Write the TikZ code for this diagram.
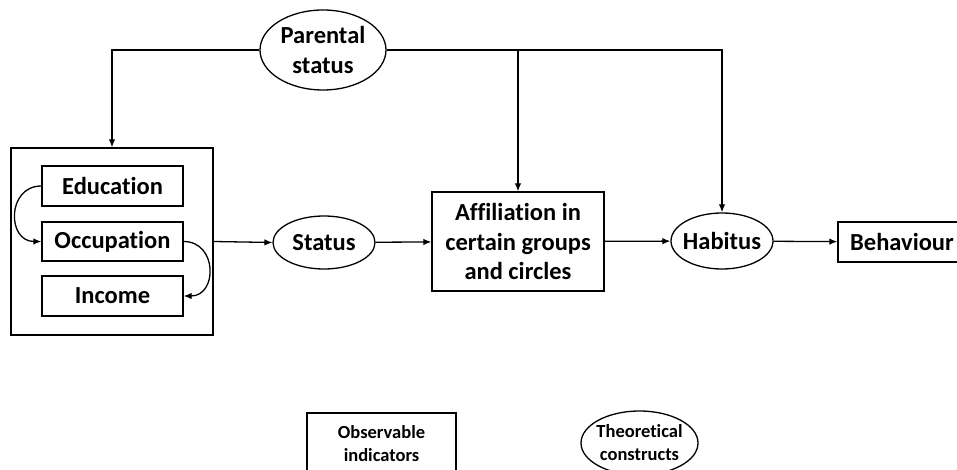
\documentclass[tikz,border=0pt]{standalone}
\usepackage{fontspec}
\setmainfont{Carlito}[Ligatures=NoCommon]
\usetikzlibrary{shapes.geometric,arrows.meta}
\tikzset{
  box/.style={draw,line width=1.3pt,rectangle,inner sep=0pt,align=center},
  construct/.style={draw,line width=1.3pt,ellipse,inner sep=-5pt,align=center},
  link/.style={line width=1.3pt,-{Latex[length=8pt,width=6.5pt]}},
  bigtext/.style={font=\bfseries\fontsize{24.5}{29.5}\selectfont},
  smalltext/.style={font=\bfseries\fontsize{18.5}{23}\selectfont}
}
\begin{document}
\begin{tikzpicture}[x=1pt,y=-1pt,bigtext]
\useasboundingbox (0,0) rectangle (957,470);
% Parental status on top
\node[construct,minimum width=126,minimum height=80] (par) at (323,50) {Parental\\status};
% Indicator block
\node[box,minimum width=202,minimum height=187] (indic) at (112,241.5) {};
\node[box,minimum width=141,minimum height=40] (edu) at (112.5,186) {Education};
\node[box,minimum width=141,minimum height=39] (occ) at (112.5,241.5) {Occupation};
\node[box,minimum width=141,minimum height=40] (inc) at (112.5,296) {Income};
\draw[link] (edu.west) to[out=180,in=180,looseness=1.6] (occ.west);
\draw[link] (occ.east) to[out=0,in=0,looseness=1.6] (inc.east);
% Main chain
\node[construct,minimum width=102,minimum height=53] (status) at (324,242.5) {Status};
\node[box,minimum width=172,minimum height=99] (aff) at (518,241.5) {Affiliation in\\certain groups\\and circles};
\node[construct,minimum width=102,minimum height=56] (hab) at (722,241) {Habitus};
\node[box,minimum width=128,minimum height=40] (beh) at (902,242) {Behaviour};
\draw[link] (indic.east) -- (status.west);
\draw[link] (status) -- (aff);
\draw[link] (aff) -- (hab);
\draw[link] (hab) -- (beh);
% Influence of parental status
\draw[link] (par.west) -| (indic.north);
\draw[link] (par.east) -| (hab.north);
\coordinate (split) at (aff.north |- par.east);
\draw[link] (split) -- (aff.north);
% Legend
\node[box,smalltext,minimum width=149,minimum height=62] (obs) at (381.5,444) {Observable\\indicators};
\node[construct,smalltext,minimum width=117,minimum height=64] (theo) at (639.5,443) {Theoretical\\constructs};
\end{tikzpicture}
\end{document}
